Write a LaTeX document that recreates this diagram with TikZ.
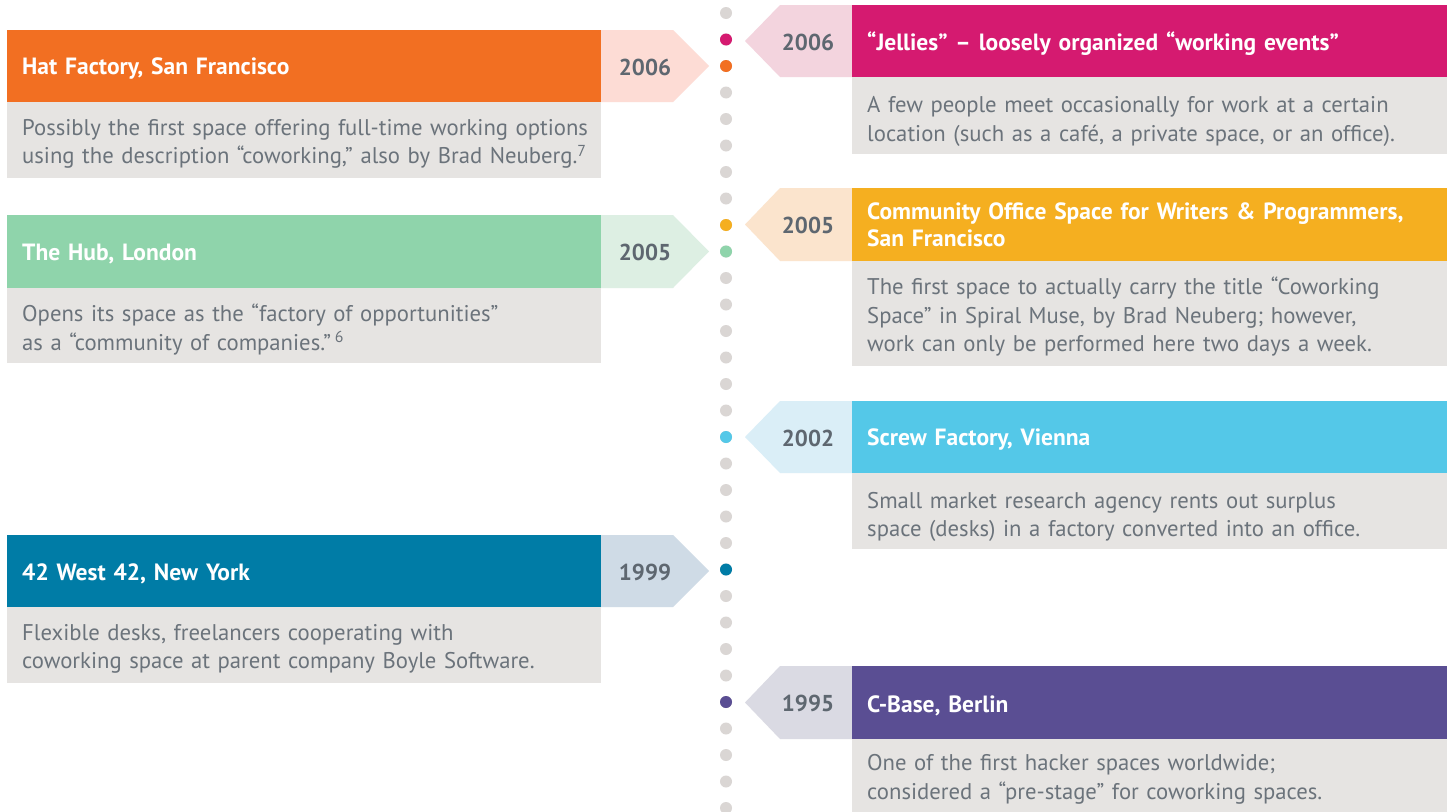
\documentclass[tikz,border=0pt]{standalone}
\usepackage{fontspec}
\setmainfont{PT Sans}
\definecolor{cOrange}{HTML}{F26F22}
\definecolor{lOrange}{HTML}{FDDCD5}
\definecolor{cMagenta}{HTML}{D51A70}
\definecolor{lMagenta}{HTML}{F3D4DE}
\definecolor{cAmber}{HTML}{F5AF20}
\definecolor{lAmber}{HTML}{FBE4CD}
\definecolor{cGreen}{HTML}{8FD4AB}
\definecolor{lGreen}{HTML}{DDEFE3}
\definecolor{cCyan}{HTML}{54C8E8}
\definecolor{lCyan}{HTML}{DAEEF7}
\definecolor{cTeal}{HTML}{007CA6}
\definecolor{lTeal}{HTML}{CFDBE6}
\definecolor{cPurple}{HTML}{5A4E93}
\definecolor{lPurple}{HTML}{DADAE3}
\definecolor{boxgray}{HTML}{E6E4E2}
\definecolor{dotgray}{HTML}{DAD6D4}
\definecolor{desctext}{HTML}{6B737B}
\definecolor{yeartext}{HTML}{5E6770}
\tikzset{
  box/.style={anchor=north west, inner sep=0pt, outer sep=0pt, minimum width=#1},
  head/.style={box=594pt, minimum height=#1},
  rhead/.style={box=595pt, minimum height=#1},
  desc/.style={box=594pt, fill=boxgray, minimum height=#1},
  rdesc/.style={box=595pt, fill=boxgray, minimum height=#1},
  htext/.style={anchor=west, inner sep=0pt, text width=600pt, align=left, text=white, font=\bfseries\fontsize{23.5}{27}\selectfont},
  dtext/.style={anchor=west, inner sep=0pt, text width=600pt, align=left, text=desctext, font=\fontsize{22.7}{28.5}\selectfont},
  yr/.style={text=yeartext, font=\bfseries\fontsize{23}{26}\selectfont, inner sep=0pt},
  tl/.style={dotgray}
}
\begin{document}
\begin{tikzpicture}[x=1pt,y=-1pt]
\clip (0,0) rectangle (1450,811);
\fill[white] (0,0) rectangle (1450,811);
% timeline dots
\foreach \k in {0,...,30} \fill[tl] (726,13+26.5*\k) circle (6pt);
\fill[cMagenta] (726,39.5) circle (6pt);
\fill[cOrange] (726,66) circle (6pt);
\fill[cAmber] (726,225) circle (6pt);
\fill[cGreen] (726,251.5) circle (6pt);
\fill[cCyan] (726,437) circle (6pt);
\fill[cTeal] (726,569.5) circle (6pt);
\fill[cPurple] (726,702) circle (6pt);

% ===== left: Hat Factory
\fill[lOrange] (601,30) -- (673,30) -- (709,66) -- (673,102) -- (601,102) -- cycle;
\node[head=72pt, fill=cOrange] (hatH) at (7,30) {};
\node[htext] (hatT) at ([xshift=15pt,yshift=-3pt]hatH.west) {Hat Factory, San Francisco};
\node[desc=76pt] (hatD) at (hatH.south west) {};
\node[dtext] (hatX) at ([xshift=15pt,yshift=-4pt]hatD.west) {Possibly the first space offering full-time working options\\using the description “coworking,” also by Brad Neuberg.\textsuperscript{7}};
\node[yr] (hatY) at (645,67) {2006};

% ===== left: The Hub
\fill[lGreen] (601,215) -- (673,215) -- (709,251.5) -- (673,288) -- (601,288) -- cycle;
\node[head=73pt, fill=cGreen] (hubH) at (7,215) {};
\node[htext] (hubT) at ([xshift=15pt,yshift=-3pt]hubH.west) {The Hub, London};
\node[desc=75pt] (hubD) at (hubH.south west) {};
\node[dtext] (hubX) at ([xshift=15pt,yshift=-4pt]hubD.west) {Opens its space as the “factory of opportunities”\\as a “community of companies.”\,\textsuperscript{6}};
\node[yr] (hubY) at (645,252.5) {2005};

% ===== left: 42 West 42
\fill[lTeal] (601,535) -- (673,535) -- (709,571) -- (673,607) -- (601,607) -- cycle;
\node[head=72pt, fill=cTeal] (nyH) at (7,535) {};
\node[htext] (nyT) at ([xshift=15pt,yshift=-3pt]nyH.west) {42 West 42, New York};
\node[desc=76pt] (nyD) at (nyH.south west) {};
\node[dtext] (nyX) at ([xshift=15pt,yshift=-4pt]nyD.west) {Flexible desks, freelancers cooperating with\\coworking space at parent company Boyle Software.};
\node[yr] (nyY) at (645,572) {1999};

% ===== right: Jellies
\fill[lMagenta] (852,5) -- (780,5) -- (745,41) -- (780,77) -- (852,77) -- cycle;
\node[rhead=72pt, fill=cMagenta] (jelH) at (852,5) {};
\node[htext] (jelT) at ([xshift=15pt,yshift=-3pt]jelH.west) {“Jellies” – loosely organized “working events”};
\node[rdesc=77pt] (jelD) at (jelH.south west) {};
\node[dtext] (jelX) at ([xshift=15pt,yshift=-6pt]jelD.west) {A few people meet occasionally for work at a certain\\location (such as a café, a private space, or an office).};
\node[yr] (jelY) at (808,42) {2006};

% ===== right: Community Office Space
\fill[lAmber] (852,188) -- (780,188) -- (745,224.5) -- (780,261) -- (852,261) -- cycle;
\node[rhead=73pt, fill=cAmber] (comH) at (852,188) {};
\node[htext] (comT) at ([xshift=15pt,yshift=0pt]comH.west) {Community Office Space for Writers \& Programmers,\\San Francisco};
\node[rdesc=105pt] (comD) at (comH.south west) {};
\node[dtext] (comX) at ([xshift=15pt,yshift=-3pt]comD.west) {The first space to actually carry the title “Coworking\\Space” in Spiral Muse, by Brad Neuberg; however,\\work can only be performed here two days a week.};
\node[yr] (comY) at (808,225.5) {2005};

% ===== right: Screw Factory
\fill[lCyan] (852,401) -- (780,401) -- (745,437) -- (780,473) -- (852,473) -- cycle;
\node[rhead=72pt, fill=cCyan] (scrH) at (852,401) {};
\node[htext] (scrT) at ([xshift=15pt,yshift=-3pt]scrH.west) {Screw Factory, Vienna};
\node[rdesc=76pt] (scrD) at (scrH.south west) {};
\node[dtext] (scrX) at ([xshift=15pt,yshift=-6pt]scrD.west) {Small market research agency rents out surplus\\space (desks) in a factory converted into an office.};
\node[yr] (scrY) at (808,438) {2002};

% ===== right: C-Base
\fill[lPurple] (852,666) -- (780,666) -- (745,702.5) -- (780,739) -- (852,739) -- cycle;
\node[rhead=73pt, fill=cPurple] (cbH) at (852,666) {};
\node[htext] (cbT) at ([xshift=15pt,yshift=-3pt]cbH.west) {C-Base, Berlin};
\node[rdesc=80pt] (cbD) at (cbH.south west) {};
\node[dtext] (cbX) at ([xshift=15pt,yshift=-0.5pt]cbD.west) {One of the first hacker spaces worldwide;\\considered a “pre-stage” for coworking spaces.};
\node[yr] (cbY) at (808,703.5) {1995};
\end{tikzpicture}
\end{document}
